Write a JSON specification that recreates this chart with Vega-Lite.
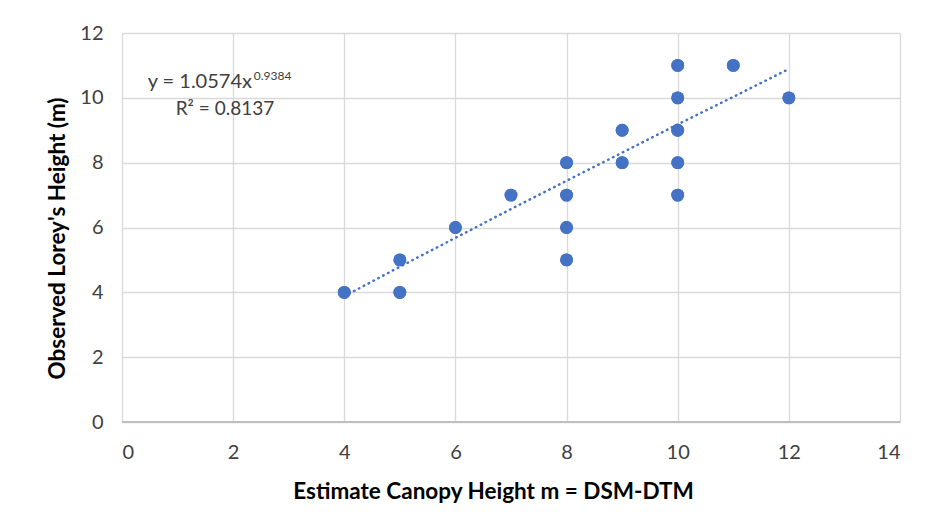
{
  "$schema": "https://vega.github.io/schema/vega-lite/v6.json",
  "width": 778,
  "height": 389,
  "autosize": "none",
  "padding": {"left": 122, "top": 33, "right": 26, "bottom": 107},
  "background": "white",
  "config": {
    "font": "Lato",
    "view": {"stroke": null},
    "axis": {
      "grid": true,
      "gridColor": "#d9d9d9",
      "gridWidth": 1.3,
      "ticks": false,
      "domain": false,
      "labelFont": "Lato",
      "labelFontSize": 20,
      "labelColor": "#404040",
      "titleFont": "Lato",
      "titleFontSize": 22.5,
      "titleFontWeight": "bold",
      "titleColor": "#000000"
    }
  },
  "datasets": {
    "pts": [
      {"x": 4, "y": 4}, {"x": 5, "y": 5}, {"x": 5, "y": 4}, {"x": 6, "y": 6},
      {"x": 7, "y": 7}, {"x": 8, "y": 8}, {"x": 8, "y": 7}, {"x": 8, "y": 6},
      {"x": 8, "y": 5}, {"x": 9, "y": 9}, {"x": 9, "y": 8}, {"x": 10, "y": 11},
      {"x": 10, "y": 10}, {"x": 10, "y": 9}, {"x": 10, "y": 8}, {"x": 10, "y": 7},
      {"x": 11, "y": 11}, {"x": 12, "y": 10}
    ],
    "trend": [
      {"x": 4, "y": 3.88}, {"x": 5, "y": 4.79}, {"x": 6, "y": 5.68}, {"x": 7, "y": 6.57},
      {"x": 8, "y": 7.44}, {"x": 9, "y": 8.31}, {"x": 10, "y": 9.18}, {"x": 11, "y": 10.03},
      {"x": 12, "y": 10.89}
    ],
    "main": [{"x": 2.339, "y": 10.30, "label": "y = 1.0574x"}],
    "r2": [{"x": 1.853, "y": 9.47, "label": "R² = 0.8137"}],
    "sup": [{"x": 2.37, "y": 10.55, "label": "0.9384"}]
  },
  "layer": [
    {
      "data": {"name": "pts"},
      "mark": {"type": "point", "filled": true, "size": 165, "opacity": 1, "color": "#4472C4"},
      "encoding": {
        "x": {
          "field": "x", "type": "quantitative",
          "scale": {"domain": [0, 14], "nice": false},
          "axis": {"values": [0, 2, 4, 6, 8, 10, 12, 14], "format": "d", "labelPadding": 20, "title": "Estimate Canopy Height m = DSM-DTM", "titleX": 371, "titleY": 69, "titleBaseline": "middle", "titleAlign": "center"}
        },
        "y": {
          "field": "y", "type": "quantitative",
          "scale": {"domain": [0, 12], "nice": false},
          "axis": {"values": [0, 2, 4, 6, 8, 10, 12], "format": "d", "labelPadding": 19, "title": "Observed Lorey's Height (m)", "titleX": -65, "titleY": 205, "titleAngle": -90, "titleBaseline": "middle", "titleAlign": "center"}
        }
      }
    },
    {
      "data": {"name": "pts"},
      "mark": {"type": "rule", "color": "#bfbfbf", "strokeWidth": 1.5},
      "encoding": {"y": {"datum": 0, "type": "quantitative"}}
    },
    {
      "data": {"name": "trend"},
      "mark": {"type": "line", "color": "#4472C4", "strokeWidth": 2.5, "strokeDash": [0.5, 5], "strokeCap": "round"},
      "encoding": {
        "x": {"field": "x", "type": "quantitative"},
        "y": {"field": "y", "type": "quantitative"}
      }
    },
    {
      "data": {"name": "pts"},
      "mark": {"type": "point", "filled": true, "size": 165, "opacity": 1, "color": "#4472C4"},
      "encoding": {
        "x": {"field": "x", "type": "quantitative"},
        "y": {"field": "y", "type": "quantitative"}
      }
    },
    {
      "data": {"name": "main"},
      "mark": {"type": "text", "fontSize": 20, "color": "#404040", "align": "right", "baseline": "alphabetic"},
      "encoding": {
        "x": {"field": "x", "type": "quantitative"},
        "y": {"field": "y", "type": "quantitative"},
        "text": {"field": "label"}
      }
    },
    {
      "data": {"name": "r2"},
      "mark": {"type": "text", "fontSize": 19, "color": "#404040", "align": "center", "baseline": "alphabetic"},
      "encoding": {
        "x": {"field": "x", "type": "quantitative"},
        "y": {"field": "y", "type": "quantitative"},
        "text": {"field": "label"}
      }
    },
    {
      "data": {"name": "sup"},
      "mark": {"type": "text", "fontSize": 12, "color": "#404040", "align": "left", "baseline": "alphabetic"},
      "encoding": {
        "x": {"field": "x", "type": "quantitative"},
        "y": {"field": "y", "type": "quantitative"},
        "text": {"field": "label"}
      }
    }
  ]
}
